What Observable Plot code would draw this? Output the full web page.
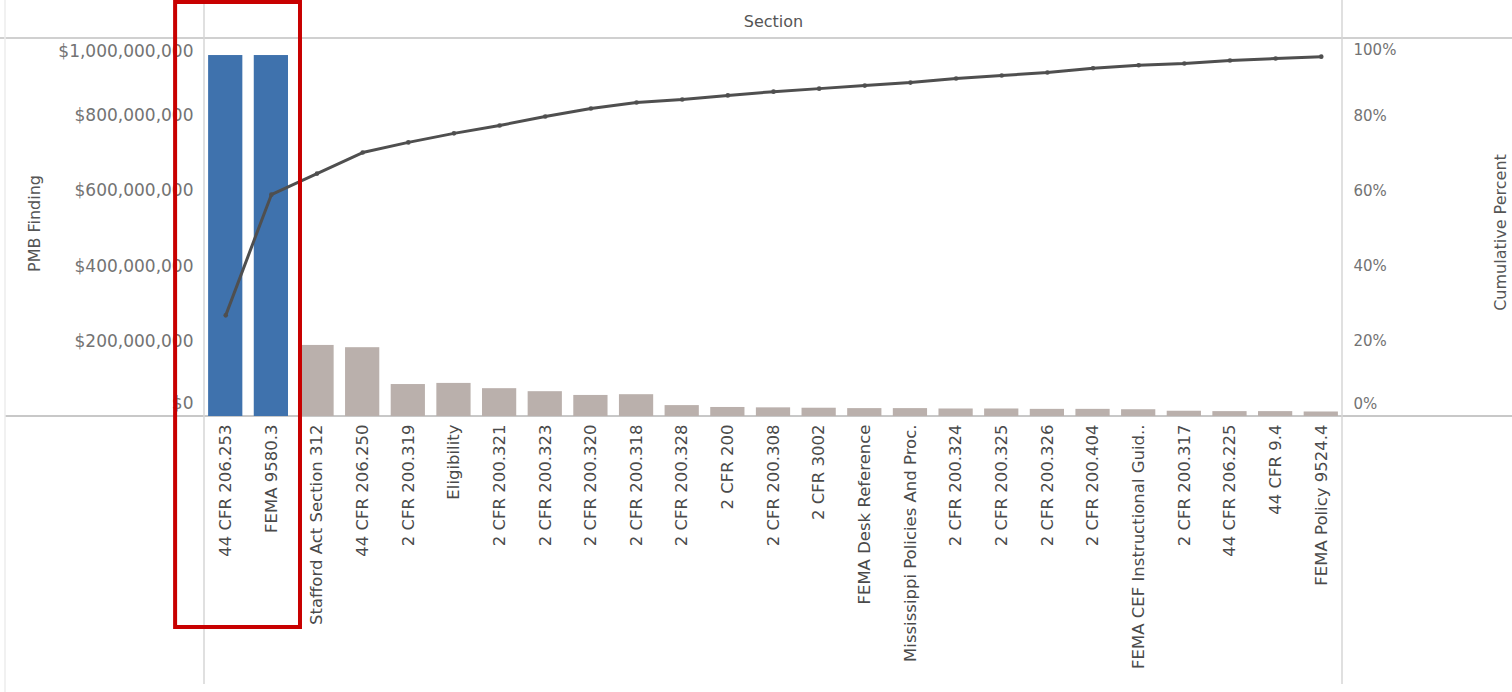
<!DOCTYPE html>
<html>
<head>
<meta charset="utf-8">
<script src="https://cdn.jsdelivr.net/npm/d3@7"></script>
<script src="https://cdn.jsdelivr.net/npm/@observablehq/plot@0.6"></script>
<style>
  html, body { margin: 0; padding: 0; background: #fff; overflow: hidden; }
  #chart svg { display: block; }
</style>
</head>
<body>
<div id="chart"></div>
<script>
// ---- data ----
const sections = [
  "44 CFR 206.253", "FEMA 9580.3", "Stafford Act Section 312", "44 CFR 206.250",
  "2 CFR 200.319", "Eligibility", "2 CFR 200.321", "2 CFR 200.323", "2 CFR 200.320",
  "2 CFR 200.318", "2 CFR 200.328", "2 CFR 200", "2 CFR 200.308", "2 CFR 3002",
  "FEMA Desk Reference", "Mississippi Policies And Proc.", "2 CFR 200.324",
  "2 CFR 200.325", "2 CFR 200.326", "2 CFR 200.404", "FEMA CEF Instructional Guid..",
  "2 CFR 200.317", "44 CFR 206.225", "44 CFR 9.4", "FEMA Policy 9524.4"
];
const findings = [
  960e6, 960e6, 189e6, 183e6, 85e6, 88e6, 74e6, 66e6, 56e6, 58e6,
  29e6, 24e6, 23e6, 22e6, 21e6, 21e6, 20e6, 20e6, 19e6, 19e6,
  18e6, 14e6, 13e6, 13e6, 12e6
];
const cumulativePct = [
  26.9, 59.0, 64.6, 70.2, 72.9, 75.3, 77.4, 79.8, 81.9, 83.5,
  84.3, 85.4, 86.4, 87.2, 88.0, 88.8, 89.9, 90.7, 91.5, 92.6,
  93.4, 93.9, 94.7, 95.2, 95.7
];
const highlighted = ["44 CFR 206.253", "FEMA 9580.3"];
const dollarTicks = [0, 200e6, 400e6, 600e6, 800e6, 1000e6];
const pctTicks = [0, 20, 40, 60, 80, 100];

const rows = sections.map((s, i) => ({
  section: s, finding: findings[i], pct: cumulativePct[i], hi: highlighted.includes(s)
}));
const K = 1e9 / 100; // percent -> shared y units (100% aligned with $1B)
const fmtDollar = d => "$" + d3.format(",")(d);
const fmtPct = d => Math.round(d / K) + "%";
const pctUnits = pctTicks.map(p => p * K);
const FONT = "DejaVu Sans";
const tickColor = "#737373";

const chart = Plot.plot({
  width: 1512,
  height: 692,
  marginLeft: 204,
  marginRight: 170,
  marginTop: 40,
  marginBottom: 276,
  style: { fontFamily: FONT, background: "#fff", overflow: "hidden" },
  x: { domain: sections, paddingInner: 0.25, paddingOuter: 0.09, round: false },
  y: { domain: [0, 1e9] },
  marks: [
    Plot.barY(rows, { x: "section", y: "finding", fill: d => d.hi ? "#3f72ad" : "#bab0ac" }),
    Plot.line(rows, { x: "section", y: d => d.pct * K, stroke: "#4f4f4f", strokeWidth: 3 }),
    Plot.dot(rows, { x: "section", y: d => d.pct * K, r: 2.3, fill: "#4f4f4f" }),
    // x labels
    Plot.axisX({ tickSize: 0, tickRotate: -90, tickPadding: 8, fontSize: 16.5, color: "#4a4a4a", label: null }),
    // left axis (dollars)
    Plot.axisY(dollarTicks.slice(1, 5), { anchor: "left", tickSize: 0, tickPadding: 11, tickFormat: fmtDollar, fontSize: 17, color: tickColor, label: null }),
    Plot.axisY([dollarTicks[0]], { anchor: "left", tickSize: 0, tickPadding: 11, tickFormat: fmtDollar, fontSize: 17, color: tickColor, label: null, dy: -13 }),
    Plot.axisY([dollarTicks[5]], { anchor: "left", tickSize: 0, tickPadding: 11, tickFormat: fmtDollar, fontSize: 17, color: tickColor, label: null, dy: 11 }),
    // right axis (cumulative percent)
    Plot.axisY(pctUnits.slice(1, 5), { anchor: "right", tickSize: 0, tickPadding: 11, tickFormat: fmtPct, fontSize: 15, color: tickColor, label: null }),
    Plot.axisY([pctUnits[0]], { anchor: "right", tickSize: 0, tickPadding: 11, tickFormat: fmtPct, fontSize: 15, color: tickColor, label: null, dy: -12 }),
    Plot.axisY([pctUnits[5]], { anchor: "right", tickSize: 0, tickPadding: 11, tickFormat: fmtPct, fontSize: 15, color: tickColor, label: null, dy: 10 }),
    // titles
    Plot.text(["Section"], { frameAnchor: "top", lineAnchor: "middle", dy: -19, fontSize: 16, fill: "#555" }),
    Plot.text(["PMB Finding"], { frameAnchor: "left", textAnchor: "middle", lineAnchor: "middle", dx: -170, dy: -5, rotate: -90, fontSize: 16, fill: "#555" }),
    Plot.text(["Cumulative Percent"], { frameAnchor: "right", textAnchor: "middle", lineAnchor: "middle", dx: 158, dy: 4, rotate: -90, fontSize: 16, fill: "#555" })
  ]
});

document.getElementById("chart").appendChild(chart);

// ---- Tableau-like pane dividers and the highlight box ----
const svg = d3.select(chart);
const xs = chart.scale("x");
const ys = chart.scale("y");
const [xL, xR] = xs.range;
const y0 = ys.apply(0);
const yTop = ys.apply(1e9);
const W = 1512, H = 692;

const under = svg.insert("g", "g");
under.append("line").attr("x1", 0).attr("x2", W).attr("y1", yTop - 2).attr("y2", yTop - 2)
  .attr("stroke", "#d0d0d0").attr("stroke-width", 2);
under.append("line").attr("x1", 5).attr("x2", W).attr("y1", y0).attr("y2", y0)
  .attr("stroke", "#c8c8c8").attr("stroke-width", 2);
[xL, xR].forEach(x => {
  under.append("line").attr("x1", x).attr("x2", x).attr("y1", 0).attr("y2", H - 8)
    .attr("stroke", "#d6d6d6").attr("stroke-width", 1.5);
});
under.append("line").attr("x1", 5).attr("x2", 5).attr("y1", 0).attr("y2", H)
  .attr("stroke", "#ececec").attr("stroke-width", 1.5);

// red highlight box around the highlighted categories (derived from the x scale)
const hx = highlighted.map(s => xs.apply(s));
const boxLeft = Math.min(...hx) - 33;
const boxRight = Math.max(...hx) + xs.bandwidth + 12;
svg.append("rect")
  .attr("x", boxLeft).attr("y", 2)
  .attr("width", boxRight - boxLeft).attr("height", 625)
  .attr("fill", "none").attr("stroke", "#c80000").attr("stroke-width", 4);
</script>
</body>
</html>
